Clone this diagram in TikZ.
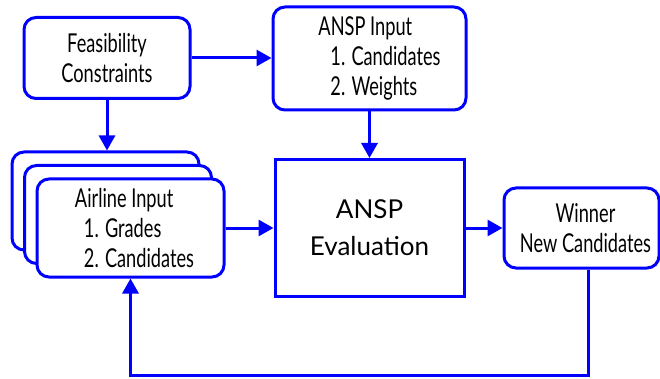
\documentclass[tikz,border=0pt]{standalone}
\usepackage{fontspec}
\setmainfont{Lato}
\newfontfamily\condfont[FakeStretch=0.7]{Lato}
\usetikzlibrary{arrows.meta}
\definecolor{linea}{RGB}{0,0,255}
\begin{document}
\begin{tikzpicture}[x=1pt,y=-1pt,
    blocco/.style={draw=linea,line width=3pt,rounded corners=12pt,fill=white,
      inner sep=0pt,font=\condfont\fontsize{26}{30}\selectfont},
    freccia/.style={draw=linea,line width=3pt,-{Triangle[length=15pt,width=16pt]}}]
    \useasboundingbox (0,0) rectangle (660,379);
    % Blocchi
    \node[blocco,minimum width=166pt,minimum height=81pt,align=center] (feas) at (107,58)
      {Feasibility\\Constraints};
    \node[blocco,minimum width=193pt,minimum height=103pt,align=left] (ansp) at (369.5,58.5)
      {\hspace*{20pt}ANSP Input\\\hspace*{32pt}1. Candidates\\\hspace*{32pt}2. Weights};
    \node[blocco,rounded corners=0pt,minimum width=189pt,minimum height=137pt,align=center,
      font=\fontsize{26}{37}\selectfont] (eval) at (369.5,228) {ANSP\\Evaluation};
    \node[blocco,minimum width=187pt,minimum height=98pt] (air3) at (105.5,201) {};
    \node[blocco,minimum width=187pt,minimum height=98pt] (air2) at (118,214.5) {};
    \node[blocco,minimum width=187pt,minimum height=98pt,align=left] (air1) at (130.5,228)
      {\hspace*{8pt}Airline Input\\\hspace*{17pt}1. Grades\\\hspace*{17pt}2. Candidates};
    \node[blocco,minimum width=155pt,minimum height=80pt,align=center] (win) at (581.5,228)
      {\hspace*{8pt}Winner\\\hspace*{8pt}New Candidates};
    \coordinate (ritorno) at (588,375);
    % Frecce
    \draw[freccia] (feas.east) -- (ansp.west |- feas.east);
    \draw[freccia] (feas.south) -- (feas.south |- air3.north);
    \draw[freccia] (ansp.south) -- (eval.north);
    \draw[freccia] (air1.east) -- (eval.west);
    \draw[freccia] (eval.east) -- (win.west);
    \draw[freccia] (ritorno |- win.south) -- (ritorno) -| (air1.south);
\end{tikzpicture}
\end{document}
